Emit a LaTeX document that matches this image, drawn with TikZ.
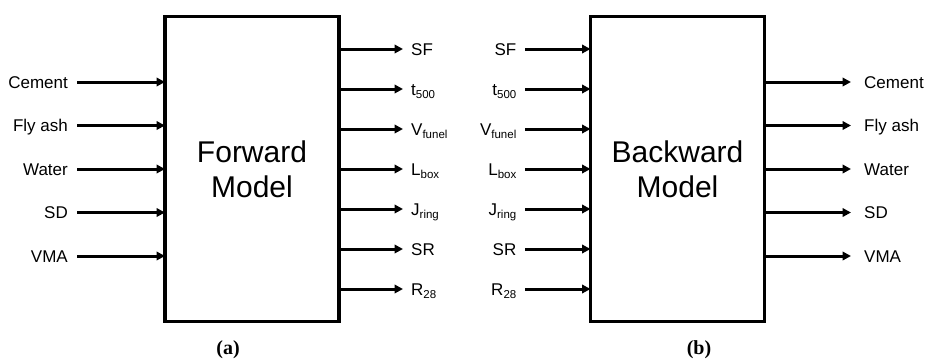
\documentclass[tikz,border=0pt]{standalone}
\usepackage{fontspec}
\setmainfont{Liberation Sans}
\newfontfamily\capfont{Liberation Serif}
\usetikzlibrary{arrows.meta}
\newcommand\lowsub[1]{\raisebox{-3.5pt}{\fontsize{11.5}{11.5}\selectfont #1}}
\begin{document}
\begin{tikzpicture}[x=1pt,y=-1pt,
  blk/.style={draw,line width=3.5pt,minimum width=174pt,minimum height=305pt,inner sep=0pt,outer sep=0pt,align=center,font=\fontsize{30}{35}\selectfont},
  arr/.style={line width=3pt,-{Triangle[length=8.5pt,width=8.5pt]}},
  lblL/.style={anchor=base east,inner sep=0pt,font=\fontsize{17}{17}\selectfont},
  lblR/.style={anchor=base west,inner sep=0pt,font=\fontsize{17}{17}\selectfont},
  captext/.style={anchor=base,inner sep=0pt,font=\capfont\bfseries\fontsize{20}{20}\selectfont}]
\useasboundingbox (0,0) rectangle (925,360);
% boxes
\node[blk] (fm) at (252,169) {Forward\\Model};
\node[blk] (bm) at (677.5,169) {Backward\\Model};
% forward inputs
\foreach \t [count=\i] in {Cement,Fly ash,Water,SD,VMA}{
  \coordinate (ais\i) at (77,{82+43.5*(\i-1)});
  \node[lblL] (ail\i) at (68,{82+43.5*(\i-1)+6}) {\t};
  \draw[arr] (ais\i) -- (fm.west |- ais\i);
}
% forward outputs
\foreach \t [count=\i] in {SF,t\lowsub{500},V\lowsub{funel},L\lowsub{box},J\lowsub{ring},SR,R\lowsub{28}}{
  \coordinate (aoe\i) at (403,{49+40*(\i-1)});
  \node[lblR] (aol\i) at (411,{49+40*(\i-1)+6}) {\t};
  \draw[arr] (fm.east |- aoe\i) -- (aoe\i);
}
% backward inputs
\foreach \t [count=\i] in {SF,t\lowsub{500},V\lowsub{funel},L\lowsub{box},J\lowsub{ring},SR,R\lowsub{28}}{
  \coordinate (bis\i) at (525,{49+40*(\i-1)});
  \node[lblL] (bil\i) at (516.5,{49+40*(\i-1)+6}) {\t};
  \draw[arr] (bis\i) -- (bm.west |- bis\i);
}
% backward outputs
\foreach \t [count=\i] in {Cement,Fly ash,Water,SD,VMA}{
  \coordinate (boe\i) at (851,{82+43.5*(\i-1)});
  \node[lblR] (bol\i) at (864,{82+43.5*(\i-1)+6}) {\t};
  \draw[arr] (bm.east |- boe\i) -- (boe\i);
}
% captions
\node[captext] (ca) at (228,354) {(a)};
\node[captext] (cb) at (699,354) {(b)};
\end{tikzpicture}
\end{document}
